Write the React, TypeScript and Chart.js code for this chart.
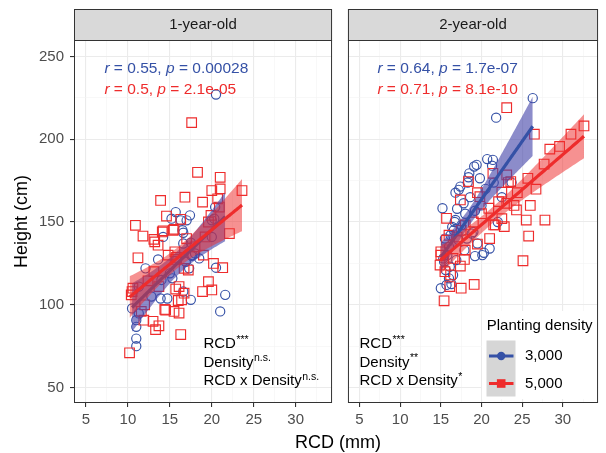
import React, { useEffect, useRef } from 'react';
import { Chart, registerables } from 'chart.js';

Chart.register(...registerables);

const FONT = '"Liberation Sans", Arial, Helvetica, sans-serif';
Chart.defaults.font.family = FONT;

// ---------------- data ----------------
const panelTitles = ['1-year-old', '2-year-old'];
const densityLabels = ['3,000', '5,000'];
const legendTitle = 'Planting density';
const xAxisTitle = 'RCD (mm)';
const yAxisTitle = 'Height (cm)';
const xMajorTicks = [5, 10, 15, 20, 25, 30];
const yMajorTicks = [50, 100, 150, 200, 250];

// 1-year-old, 3,000 trees/ha  [RCD (mm), Height (cm)]
const year1D3000: [number, number][] = [
  [20.5, 227], [15.7, 156], [15.2, 152], [17.4, 154], [17.0, 151], [16.3, 151], [20.0, 151],
  [20.3, 152], [14.2, 141], [16.6, 143.5], [16.6, 137], [17.5, 137.5], [17.6, 129.5], [18.0, 131],
  [13.6, 127.4], [12.1, 122], [16.9, 126], [15.0, 119], [15.3, 116], [20.4, 159], [20.0, 141],
  [17.7, 130], [17.3, 122], [20.5, 122.4], [21.0, 96], [21.6, 106], [11.3, 111], [10.5, 97.8],
  [11.3, 94.8], [11.0, 90.7], [11.0, 86.7], [11.0, 79.6], [11.0, 75], [13.9, 103.8], [14.7, 103.8],
  [12.8, 105], [16.6, 108], [17.5, 103], [16.5, 145], [14.0, 115], [18.5, 128],
];

// 1-year-old, 5,000 trees/ha
const year1D5000: [number, number][] = [
  [17.6, 210], [18.3, 180], [13.9, 163], [16.8, 165], [18.9, 162], [20.0, 169], [21.0, 177],
  [21.0, 170], [23.6, 169], [20.7, 164], [20.9, 159], [10.9, 148], [14.6, 153.6], [19.9, 154],
  [11.8, 141.5], [13.2, 138], [13.6, 136], [14.1, 144], [15.5, 145.6], [11.2, 128.4], [15.6, 132],
  [15.7, 127.4], [13.1, 120], [12.4, 114.5], [10.5, 108], [10.4, 106], [13.7, 111], [15.7, 109.5],
  [16.1, 111], [16.4, 103], [14.5, 96.8], [15.5, 96], [16.1, 95], [11.9, 90.7], [13.0, 90],
  [13.3, 85], [13.7, 87.3], [16.3, 82], [10.2, 71], [18.9, 108], [19.6, 114], [20.0, 109],
  [20.2, 125], [21.3, 122.4], [22.1, 143], [17.2, 121], [16.7, 122], [16.3, 151.6], [13.1, 139.5],
  [14.2, 144.7], [19.6, 150], [19.2, 141], [11.6, 96], [14.4, 97.2], [16.0, 102.6], [16.7, 107],
  [15.8, 128.6], [15.4, 145], [12.0, 100], [17.0, 140], [18.0, 135], [10.6, 110], [14.8, 130],
  [19.0, 130],
];

// 2-year-old, 3,000 trees/ha
const year2D3000: [number, number][] = [
  [26.3, 224.8], [21.8, 213], [20.7, 188], [21.4, 187.5], [19.4, 184.5], [19.1, 183.5], [21.3, 184],
  [18.5, 179.4], [19.8, 176.4], [18.3, 173.8], [17.4, 171.4], [17.2, 169.4], [16.8, 167.7],
  [17.8, 161.3], [15.2, 158.3], [21.5, 173.8], [23.7, 173.8], [19.2, 156.8], [16.8, 151.2],
  [18.4, 177], [15.0, 110], [15.7, 112], [16.3, 112.5], [15.6, 121], [16.1, 123], [16.9, 127],
  [17.9, 133], [19.2, 129.4], [20.3, 131.4], [21.0, 134], [19.5, 137], [18.8, 143], [16.7, 150],
  [16.6, 145], [17.2, 139], [20.1, 130], [19.0, 144], [16.4, 147], [15.5, 140], [16.0, 135],
  [15.3, 128], [16.5, 118], [17.5, 148], [18.0, 155], [22.5, 165], [20.0, 160], [18.2, 140],
  [15.8, 130], [17.0, 158], [16.0, 116], [22.0, 150], [20.5, 170], [15.4, 126], [18.6, 165],
  [16.2, 142],
];

// 2-year-old, 5,000 trees/ha
const year2D5000: [number, number][] = [
  [23.1, 219], [26.5, 203], [32.6, 208], [31.0, 203], [29.6, 195.6], [28.4, 194], [27.7, 185],
  [26.7, 169.8], [25.7, 176.4], [21.4, 179.4], [23.1, 178.4], [23.3, 173.8], [24.4, 167.7],
  [25.5, 151.2], [27.8, 151.2], [18.4, 174.4], [17.4, 163.3], [19.5, 167.7], [19.8, 165.3],
  [15.7, 152.2], [15.4, 102.4], [15.0, 130], [14.9, 124], [16.2, 118], [16.1, 111], [17.5, 110],
  [19.1, 112.3], [17.4, 123.4], [17.9, 127.4], [25.1, 126.6], [25.8, 141.5], [22.8, 147.2],
  [21.7, 148.2], [19.5, 136.7], [15.7, 139], [22.5, 168], [23.6, 174.4], [23.1, 161.3],
  [24.3, 157.3], [22.1, 162.3], [20.9, 158.3], [18.0, 148.2], [21.5, 148.2], [17.0, 141],
  [16.0, 142], [18.0, 133], [15.0, 132], [20.0, 155], [24.0, 160], [19.0, 150], [16.5, 128],
  [21.0, 140], [17.5, 145], [22.5, 152], [26.0, 160], [15.5, 120],
];

const year1Cor = [['0.55', '0.00028'], ['0.5', '2.1e-05']];
const year2Cor = [['0.64', '1.7e-07'], ['0.71', '8.1e-10']];
const year1Sig = [['RCD', '***'], ['Density', 'n.s.'], ['RCD x Density', 'n.s.']];
const year2Sig = [['RCD', '***'], ['Density', '**'], ['RCD x Density', '*']];

// ---------------- style ----------------
const BLUE = '#3551A6';
const RED = '#EE2C2C';
const BLUE_RIBBON = 'rgba(70, 70, 170, 0.62)';
const RED_RIBBON = 'rgba(238, 44, 44, 0.52)';
const X_MIN = 3.58, X_MAX = 34.33, Y_MIN = 40.7, Y_MAX = 259.9;
const COR_X = 7.2, COR_Y = [242.6, 230];
const SIG_X = [19, 5], SIG_Y = [76.2, 65.0, 53.8];

function tQuant975(df: number) {
  const z = 1.959964;
  return z + (z ** 3 + z) / (4 * df) + (5 * z ** 5 + 16 * z ** 3 + 3 * z) / (96 * df * df);
}

function fitBand(pts: [number, number][]) {
  const n = pts.length;
  const mx = pts.reduce((s, p) => s + p[0], 0) / n;
  const my = pts.reduce((s, p) => s + p[1], 0) / n;
  let sxx = 0, sxy = 0;
  pts.forEach(([x, y]) => { sxx += (x - mx) ** 2; sxy += (x - mx) * (y - my); });
  const b = sxy / sxx, a = my - b * mx;
  let sse = 0;
  pts.forEach(([x, y]) => { sse += (y - a - b * x) ** 2; });
  const s = Math.sqrt(sse / (n - 2));
  const t = tQuant975(n - 2);
  const xmin = Math.min(...pts.map(p => p[0]));
  const xmax = Math.max(...pts.map(p => p[0]));
  const line: any[] = [], lower: any[] = [], upper: any[] = [];
  const steps = 80;
  for (let i = 0; i <= steps; i++) {
    const x = xmin + (xmax - xmin) * i / steps;
    const yh = a + b * x;
    const se = s * Math.sqrt(1 / n + (x - mx) ** 2 / sxx);
    line.push({ x, y: yh });
    lower.push({ x, y: yh - t * se });
    upper.push({ x, y: yh + t * se });
  }
  return { line, lower, upper };
}

function panelDatasets(blue: [number, number][], red: [number, number][]) {
  const fb = fitBand(blue), fr = fitBand(red);
  const band = (data: any[], order: number, fill: any, bg: string) => ({
    data, showLine: true, borderColor: 'transparent', borderWidth: 1, pointRadius: 0,
    fill, backgroundColor: bg, order,
  });
  return [
    { data: fr.line, showLine: true, borderColor: RED, borderWidth: 3.2, pointRadius: 0, fill: false, order: 1 },
    band(fr.lower, 2, false, 'transparent'),
    band(fr.upper, 2, 1, RED_RIBBON),
    { data: fb.line, showLine: true, borderColor: BLUE, borderWidth: 3.2, pointRadius: 0, fill: false, order: 3 },
    band(fb.lower, 4, false, 'transparent'),
    band(fb.upper, 4, 4, BLUE_RIBBON),
    {
      data: red.map(([x, y]) => ({ x, y })), showLine: false, pointStyle: 'rect', pointRadius: 6.8,
      borderWidth: 1.15, borderColor: RED, backgroundColor: 'transparent', order: 5,
    },
    {
      data: blue.map(([x, y]) => ({ x, y })), showLine: false, pointStyle: 'circle', pointRadius: 4.6,
      borderWidth: 1.15, borderColor: BLUE, backgroundColor: 'transparent', order: 6,
    },
  ];
}

const isMult = (v: number, m: number) => v !== undefined && Math.abs(v / m - Math.round(v / m)) < 1e-6;

function drawRich(ctx: CanvasRenderingContext2D, x: number, y: number, segs: { t: string; i?: boolean }[], size: number) {
  let cx = x;
  segs.forEach(sg => {
    ctx.font = `${sg.i ? 'italic ' : ''}${size}px ${FONT}`;
    ctx.fillText(sg.t, cx, y);
    cx += ctx.measureText(sg.t).width;
  });
}

function makePlugin(title: string, cor: string[][], sig: string[][], sigX: number, legend: boolean) {
  return {
    id: 'panelDeco',
    afterDraw(chart: any) {
      const ctx: CanvasRenderingContext2D = chart.ctx;
      const { left, right, top, bottom } = chart.chartArea;
      const xs = chart.scales.x, ys = chart.scales.y;
      ctx.save();
      ctx.textBaseline = 'middle';
      ctx.textAlign = 'left';
      // correlation labels
      [BLUE, RED].forEach((col, k) => {
        ctx.fillStyle = col;
        drawRich(ctx, xs.getPixelForValue(COR_X), ys.getPixelForValue(COR_Y[k]), [
          { t: 'r', i: true }, { t: ' = ' + cor[k][0] + ', ' }, { t: 'p', i: true }, { t: ' = ' + cor[k][1] },
        ], 15.5);
      });
      // significance labels
      ctx.fillStyle = '#000000';
      sig.forEach((row, k) => {
        const px = xs.getPixelForValue(sigX), py = ys.getPixelForValue(SIG_Y[k]);
        ctx.font = `15px ${FONT}`;
        ctx.fillText(row[0], px, py);
        const w = ctx.measureText(row[0]).width;
        ctx.font = `10.5px ${FONT}`;
        ctx.fillText(row[1], px + w + 0.5, py - 4.5);
      });
      // legend
      if (legend) {
        ctx.fillStyle = '#FFFFFF';
        ctx.fillRect(142, 311, 115, 88);
        ctx.fillStyle = '#000000';
        ctx.font = `15px ${FONT}`;
        ctx.fillText(legendTitle, 146.7, 326);
        ctx.fillStyle = '#D6D6D6';
        ctx.fillRect(146.5, 340.5, 29, 56);
        const keys = [{ c: BLUE, y: 356, shape: 'circle' }, { c: RED, y: 383.5, shape: 'rect' }];
        keys.forEach((k, i) => {
          ctx.strokeStyle = k.c;
          ctx.lineWidth = 3;
          ctx.beginPath();
          ctx.moveTo(149, k.y);
          ctx.lineTo(173.5, k.y);
          ctx.stroke();
          ctx.fillStyle = k.c;
          if (k.shape === 'circle') {
            ctx.beginPath();
            ctx.arc(161.2, k.y, 4.2, 0, Math.PI * 2);
            ctx.fill();
          } else {
            ctx.fillRect(161.2 - 4.3, k.y - 4.3, 8.6, 8.6);
          }
          ctx.fillStyle = '#000000';
          ctx.font = `15px ${FONT}`;
          ctx.fillText(densityLabels[i], 185, k.y);
        });
      }
      // panel border
      ctx.strokeStyle = '#333333';
      ctx.lineWidth = 1;
      ctx.strokeRect(left + 0.5, top + 0.5, right - left - 1, bottom - top - 1);
      // strip
      ctx.fillStyle = '#D9D9D9';
      ctx.fillRect(left, 9, right - left, top - 9);
      ctx.strokeRect(left + 0.5, 9.5, right - left - 1, top - 9);
      ctx.fillStyle = '#1A1A1A';
      ctx.textAlign = 'center';
      ctx.font = `15px ${FONT}`;
      ctx.fillText(title, (left + right) / 2, (9 + top) / 2 + 0.5);
      ctx.restore();
    },
  };
}

function makeOptions(showY: boolean, padding: any) {
  return {
    animation: false,
    responsive: false,
    maintainAspectRatio: false,
    devicePixelRatio: 1,
    events: [],
    layout: { padding },
    plugins: { legend: { display: false }, tooltip: { enabled: false }, title: { display: false } },
    scales: {
      x: {
        type: 'linear', min: X_MIN, max: X_MAX,
        border: { display: false },
        ticks: {
          stepSize: 2.5, includeBounds: false, autoSkip: false, maxRotation: 0,
          callback: (v: number) => (xMajorTicks.includes(v) ? String(v) : ''),
          color: '#4D4D4D', font: { size: 15 }, padding: 4,
        },
        grid: {
          color: (c: any) => (isMult(c.tick?.value, 5) ? '#EBEBEB' : '#F3F3F3'),
          lineWidth: (c: any) => (isMult(c.tick?.value, 5) ? 1.1 : 0.6),
          tickColor: (c: any) => (isMult(c.tick?.value, 5) ? '#333333' : 'rgba(0,0,0,0)'),
          tickWidth: 1.1, tickLength: 4, drawTicks: true,
        },
        afterFit: (s: any) => { s.height = 50; },
      },
      y: {
        type: 'linear', min: Y_MIN, max: Y_MAX,
        border: { display: false },
        title: showY
          ? { display: true, text: yAxisTitle, color: '#000000', font: { size: 18 }, padding: { top: 11, bottom: 0 } }
          : { display: false },
        ticks: {
          display: showY,
          stepSize: 25, includeBounds: false, autoSkip: false,
          callback: (v: number) => (yMajorTicks.includes(v) ? String(v) : ''),
          color: '#4D4D4D', font: { size: 15 }, padding: 6,
        },
        grid: {
          color: (c: any) => (isMult(c.tick?.value, 50) ? '#EBEBEB' : '#F3F3F3'),
          lineWidth: (c: any) => (isMult(c.tick?.value, 50) ? 1.1 : 0.6),
          tickColor: (c: any) => (isMult(c.tick?.value, 50) ? '#333333' : 'rgba(0,0,0,0)'),
          tickWidth: 1.1, tickLength: 4, drawTicks: showY,
        },
        afterFit: (s: any) => { s.width = showY ? 74 : 0; },
      },
    },
  };
}

function Panel(props: { idx: number; left: number; width: number }) {
  const ref = useRef<HTMLCanvasElement>(null);
  useEffect(() => {
    const first = props.idx === 0;
    const chart = new Chart(ref.current as HTMLCanvasElement, {
      type: 'scatter',
      data: {
        datasets: (first ? panelDatasets(year1D3000, year1D5000) : panelDatasets(year2D3000, year2D5000)) as any,
      },
      options: makeOptions(first, first ? { top: 40, right: 6, left: 0, bottom: 0 } : { top: 40, right: 1, left: 5, bottom: 0 }) as any,
      plugins: [
        makePlugin(panelTitles[props.idx], first ? year1Cor : year2Cor, first ? year1Sig : year2Sig,
          first ? SIG_X[0] : SIG_X[1], !first),
      ],
    });
    return () => chart.destroy();
  }, []);
  return (
    <canvas
      ref={ref}
      width={props.width}
      height={453}
      style={{ position: 'absolute', left: props.left, top: 0, width: props.width, height: 453, display: 'block' }}
    />
  );
}

export default function App() {
  return (
    <div style={{ position: 'absolute', left: 0, top: 0, width: 606, height: 453, background: '#FFFFFF', overflow: 'hidden' }}>
      <Panel idx={0} left={0} width={340} />
      <Panel idx={1} left={340} width={266} />
      <div
        style={{
          position: 'absolute', left: 238, top: 431.5, width: 200, textAlign: 'center',
          fontFamily: FONT, fontSize: 18, lineHeight: '20px', color: '#000000',
        }}
      >
        {xAxisTitle}
      </div>
    </div>
  );
}
